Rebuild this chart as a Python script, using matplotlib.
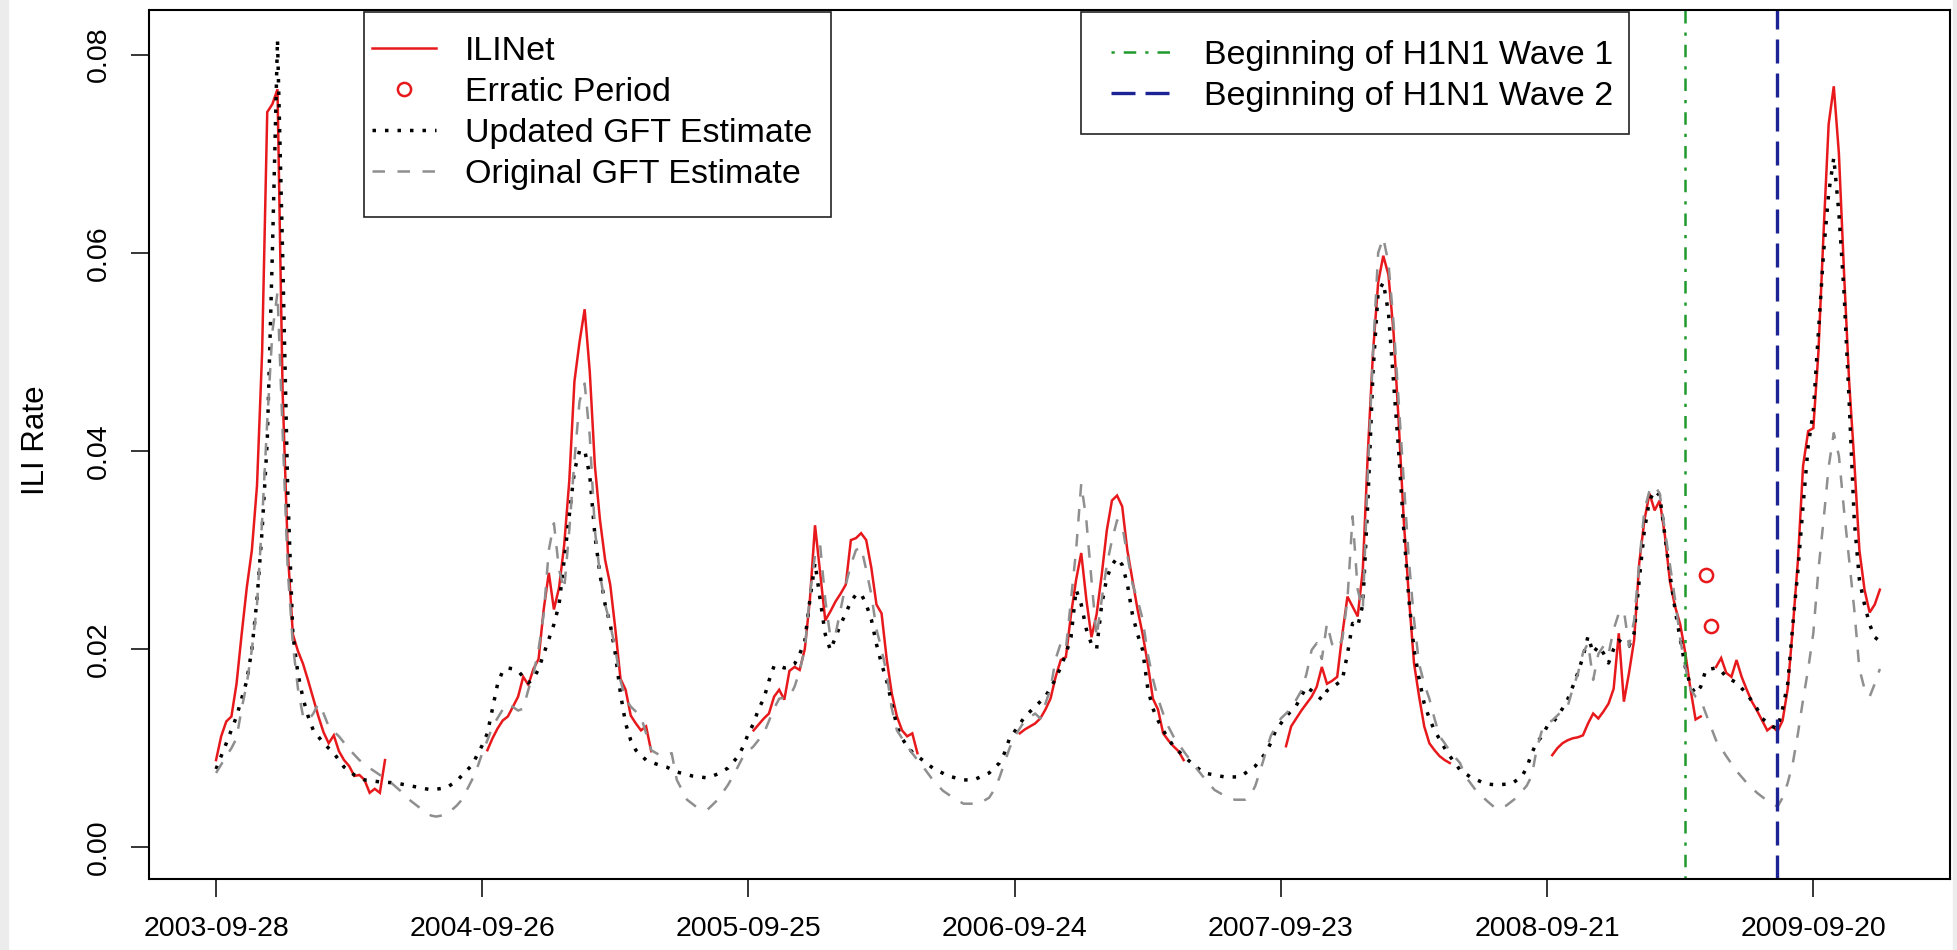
import numpy as np
import matplotlib
matplotlib.use("Agg")
import matplotlib.pyplot as plt
from matplotlib.lines import Line2D
from matplotlib.patches import Rectangle

plt.rcParams["font.family"] = ["Liberation Sans", "DejaVu Sans"]

W, H, DPI = 1958, 950, 100

# x positions are week numbers counted from 2003-09-28
tick_weeks = [0, 52, 104, 156, 208, 260, 312]
tick_labels = ["2003-09-28", "2004-09-26", "2005-09-25", "2006-09-24",
               "2007-09-23", "2008-09-21", "2009-09-20"]
y_ticks = [0.00, 0.02, 0.04, 0.06, 0.08]

# ILINet: (first week, weekly rates) for each reporting stretch
ili_seasons = [
    (0, [0.0088, 0.0112, 0.0127, 0.0132, 0.0165, 0.0215, 0.0262, 0.0300, 0.0365, 0.0500,
         0.0742, 0.0750, 0.0765, 0.0460, 0.0300, 0.0215, 0.0198, 0.0185, 0.0168, 0.0150,
         0.0132, 0.0116, 0.0105, 0.0113, 0.0097, 0.0088, 0.0082, 0.0072, 0.0073, 0.0068,
         0.0055, 0.0059, 0.0055, 0.0088]),
    (53, [0.0098, 0.0110, 0.0120, 0.0128, 0.0132, 0.0142, 0.0152, 0.0172, 0.0164, 0.0180,
          0.0190, 0.0240, 0.0277, 0.0240, 0.0262, 0.0305, 0.0370, 0.0470, 0.0510, 0.0543,
          0.0480, 0.0385, 0.0330, 0.0290, 0.0265, 0.0220, 0.0170, 0.0159, 0.0133, 0.0125,
          0.0118, 0.0122, 0.0097]),
    (105, [0.0118, 0.0124, 0.0130, 0.0135, 0.0152, 0.0159, 0.0149, 0.0178, 0.0182, 0.0179,
           0.0200, 0.0250, 0.0325, 0.0277, 0.0229, 0.0238, 0.0248, 0.0256, 0.0265, 0.0310,
           0.0312, 0.0317, 0.0310, 0.0282, 0.0245, 0.0236, 0.0190, 0.0155, 0.0132, 0.0118,
           0.0112, 0.0115, 0.0095]),
    (157, [0.0115, 0.0119, 0.0122, 0.0125, 0.0130, 0.0139, 0.0150, 0.0172, 0.0189, 0.0192,
           0.0235, 0.0270, 0.0297, 0.0250, 0.0212, 0.0235, 0.0275, 0.0320, 0.0350, 0.0355,
           0.0344, 0.0300, 0.0270, 0.0240, 0.0215, 0.0185, 0.0150, 0.0139, 0.0115, 0.0108,
           0.0102, 0.0097, 0.0088]),
    (209, [0.0102, 0.0122, 0.0130, 0.0138, 0.0145, 0.0152, 0.0162, 0.0182, 0.0165, 0.0168,
           0.0172, 0.0215, 0.0253, 0.0243, 0.0233, 0.0280, 0.0400, 0.0500, 0.0570, 0.0597,
           0.0578, 0.0520, 0.0430, 0.0330, 0.0253, 0.0186, 0.0152, 0.0122, 0.0105, 0.0098,
           0.0092, 0.0088, 0.0085]),
    (261, [0.0093, 0.0100, 0.0105, 0.0108, 0.0110, 0.0111, 0.0113, 0.0125, 0.0135, 0.0130,
           0.0137, 0.0145, 0.0160, 0.0216, 0.0147, 0.0176, 0.0209, 0.0287, 0.0330, 0.0357,
           0.0340, 0.0350, 0.0315, 0.0268, 0.0243, 0.0225, 0.0196, 0.0160, 0.0129, 0.0132]),
    (293, [0.0182, 0.0191, 0.0176, 0.0172, 0.0189, 0.0172, 0.0159, 0.0147, 0.0138, 0.0128,
           0.0118, 0.0122, 0.0117, 0.0128, 0.0160, 0.0222, 0.0290, 0.0385, 0.0420, 0.0423,
           0.0500, 0.0620, 0.0730, 0.0768, 0.0700, 0.0580, 0.0470, 0.0390, 0.0300, 0.0260,
           0.0237, 0.0245, 0.0260]),
]

erratic_weeks = [291, 292]
erratic_rate = [0.0275, 0.0223]

gft_new_weeks = [
    0, 2, 4, 6, 7, 8, 9, 10, 11, 12, 13, 14, 15, 16, 17, 18, 19, 21, 23, 25, 27, 29, 32, 35, 38,
    42, 45, 47, 50, 52, 53, 54, 55, 56, 57, 58, 59, 60, 61, 62, 63, 64, 65, 66, 67, 68, 69, 70,
    71, 72, 73, 74, 75, 76, 77, 78, 79, 80, 81, 82, 84, 86, 88, 90, 93, 96, 98, 100, 102, 103,
    104, 105, 106, 107, 108, 109, 110, 111, 112, 113, 114, 115, 116, 117, 118, 119, 120, 121,
    122, 123, 124, 125, 126, 127, 128, 129, 130, 131, 132, 133, 134, 135, 136, 138, 140, 143,
    146, 148, 151, 153, 154, 155, 156, 158, 160, 162, 164, 165, 166, 167, 168, 169, 170, 171,
    172, 173, 174, 175, 176, 177, 178, 179, 180, 181, 182, 183, 184, 185, 187, 189, 191, 193,
    197, 200, 203, 205, 206, 207, 209, 211, 213, 214, 216, 217, 219, 220, 221, 222, 223, 224,
    225, 226, 227, 228, 229, 230, 231, 232, 233, 234, 235, 236, 237, 238, 240, 241, 243, 245,
    248, 250, 253, 255, 256, 257, 258, 259, 260, 261, 262, 263, 264, 265, 266, 267, 268, 269,
    270, 271, 272, 273, 274, 275, 276, 277, 278, 279, 280, 281, 282, 283, 284, 285, 286, 287,
    288, 289, 290, 291, 292, 293, 294, 295, 297, 299, 301, 302, 304, 305, 306, 307, 308, 309,
    310, 311, 312, 313, 314, 315, 316, 317, 318, 319, 320, 321, 322, 323, 324, 325]
gft_new = [
    0.0079, 0.0105, 0.0132, 0.0168, 0.0200, 0.0250, 0.0320, 0.0410, 0.0600, 0.0815, 0.0600,
    0.0360, 0.0215, 0.0175, 0.0150, 0.0132, 0.0118, 0.0105, 0.0095, 0.0081, 0.0073, 0.0068,
    0.0066, 0.0065, 0.0062, 0.0058, 0.0060, 0.0067, 0.0083, 0.0103, 0.0115, 0.0140, 0.0165,
    0.0178, 0.0181, 0.0180, 0.0178, 0.0172, 0.0166, 0.0170, 0.0180, 0.0195, 0.0210, 0.0225,
    0.0245, 0.0290, 0.0335, 0.0380, 0.0400, 0.0401, 0.0375, 0.0315, 0.0275, 0.0245, 0.0225,
    0.0195, 0.0155, 0.0125, 0.0108, 0.0098, 0.0088, 0.0084, 0.0081, 0.0076, 0.0072, 0.0070,
    0.0074, 0.0080, 0.0092, 0.0102, 0.0115, 0.0125, 0.0140, 0.0150, 0.0168, 0.0183, 0.0183,
    0.0181, 0.0182, 0.0185, 0.0195, 0.0208, 0.0250, 0.0287, 0.0250, 0.0215, 0.0199, 0.0212,
    0.0225, 0.0236, 0.0248, 0.0255, 0.0256, 0.0245, 0.0230, 0.0205, 0.0185, 0.0168, 0.0145,
    0.0122, 0.0110, 0.0102, 0.0096, 0.0088, 0.0080, 0.0072, 0.0068, 0.0068, 0.0075, 0.0085,
    0.0095, 0.0110, 0.0117, 0.0132, 0.0142, 0.0152, 0.0170, 0.0182, 0.0195, 0.0212, 0.0260,
    0.0245, 0.0220, 0.0205, 0.0200, 0.0245, 0.0272, 0.0285, 0.0292, 0.0285, 0.0266, 0.0235,
    0.0215, 0.0199, 0.0160, 0.0140, 0.0128, 0.0118, 0.0102, 0.0092, 0.0083, 0.0075, 0.0071,
    0.0071, 0.0082, 0.0095, 0.0105, 0.0118, 0.0132, 0.0143, 0.0162, 0.0158, 0.0149, 0.0158,
    0.0165, 0.0169, 0.0195, 0.0226, 0.0223, 0.0245, 0.0350, 0.0480, 0.0560, 0.0570, 0.0540,
    0.0470, 0.0400, 0.0320, 0.0250, 0.0200, 0.0170, 0.0145, 0.0130, 0.0118, 0.0100, 0.0092,
    0.0078, 0.0071, 0.0064, 0.0063, 0.0064, 0.0071, 0.0080, 0.0095, 0.0106, 0.0112, 0.0122,
    0.0125, 0.0132, 0.0140, 0.0149, 0.0162, 0.0176, 0.0192, 0.0213, 0.0196, 0.0203, 0.0196,
    0.0186, 0.0200, 0.0209, 0.0205, 0.0203, 0.0216, 0.0270, 0.0320, 0.0350, 0.0360, 0.0355,
    0.0315, 0.0275, 0.0240, 0.0210, 0.0182, 0.0163, 0.0155, 0.0162, 0.0179, 0.0180, 0.0181,
    0.0178, 0.0172, 0.0166, 0.0155, 0.0140, 0.0130, 0.0122, 0.0120, 0.0140, 0.0165, 0.0225,
    0.0280, 0.0345, 0.0405, 0.0440, 0.0520, 0.0600, 0.0660, 0.0696, 0.0640, 0.0560, 0.0450,
    0.0330, 0.0270, 0.0245, 0.0225, 0.0212, 0.0208]

gft_old_weeks = [
    0, 2, 3, 4, 5, 6, 7, 8, 9, 10, 11, 12, 13, 14, 15, 16, 17, 18, 19, 20, 21, 22, 24, 26, 28,
    30, 32, 34, 36, 38, 40, 42, 43, 45, 47, 48, 50, 51, 52, 53, 54, 56, 57, 59, 60, 61, 62, 63,
    64, 65, 66, 67, 68, 69, 70, 71, 72, 73, 74, 75, 76, 77, 78, 79, 80, 81, 83, 84, 85, 87, 89,
    90, 92, 94, 96, 98, 100, 101, 103, 105, 107, 109, 110, 112, 113, 114, 115, 116, 117, 118,
    119, 120, 121, 122, 123, 124, 125, 126, 127, 128, 129, 130, 131, 132, 133, 134, 135, 136,
    137, 138, 140, 142, 144, 146, 149, 151, 152, 153, 154, 155, 156, 158, 160, 161, 163, 164,
    165, 166, 167, 168, 169, 170, 171, 172, 173, 174, 175, 176, 177, 178, 179, 180, 181, 182,
    183, 184, 185, 186, 187, 189, 191, 193, 195, 197, 199, 201, 202, 203, 204, 205, 206, 207,
    208, 210, 212, 213, 214, 215, 216, 217, 218, 219, 220, 221, 222, 223, 224, 225, 226, 227,
    228, 229, 230, 231, 232, 233, 234, 235, 236, 237, 238, 239, 240, 241, 243, 244, 246, 248,
    250, 252, 254, 256, 257, 258, 259, 260, 261, 263, 264, 265, 266, 267, 268, 269, 270, 271,
    272, 273, 274, 275, 276, 277, 278, 279, 280, 281, 282, 283, 284, 285, 286, 287, 288, 289,
    290, 291, 293, 295, 297, 299, 301, 303, 305, 306, 307, 308, 309, 310, 311, 312, 313, 314,
    315, 316, 317, 318, 319, 320, 321, 322, 323, 324, 325]
gft_old = [
    0.0075, 0.0092, 0.0100, 0.0110, 0.0140, 0.0165, 0.0200, 0.0245, 0.0330, 0.0430, 0.0520,
    0.0560, 0.0420, 0.0280, 0.0205, 0.0160, 0.0132, 0.0128, 0.0135, 0.0145, 0.0135, 0.0122,
    0.0112, 0.0099, 0.0088, 0.0080, 0.0073, 0.0066, 0.0057, 0.0047, 0.0039, 0.0032, 0.0031,
    0.0033, 0.0042, 0.0048, 0.0068, 0.0080, 0.0095, 0.0108, 0.0122, 0.0139, 0.0145, 0.0138,
    0.0140, 0.0159, 0.0175, 0.0200, 0.0235, 0.0300, 0.0327, 0.0280, 0.0260, 0.0320, 0.0390,
    0.0450, 0.0468, 0.0415, 0.0320, 0.0275, 0.0245, 0.0225, 0.0200, 0.0168, 0.0150, 0.0142,
    0.0132, 0.0115, 0.0098, 0.0092, 0.0095, 0.0068, 0.0048, 0.0040, 0.0038, 0.0048, 0.0063,
    0.0072, 0.0092, 0.0102, 0.0115, 0.0140, 0.0150, 0.0152, 0.0162, 0.0178, 0.0200, 0.0255,
    0.0295, 0.0305, 0.0250, 0.0212, 0.0215, 0.0240, 0.0265, 0.0285, 0.0300, 0.0303, 0.0280,
    0.0255, 0.0220, 0.0200, 0.0175, 0.0140, 0.0118, 0.0110, 0.0102, 0.0095, 0.0088, 0.0082,
    0.0068, 0.0057, 0.0050, 0.0044, 0.0044, 0.0050, 0.0058, 0.0070, 0.0085, 0.0100, 0.0112,
    0.0128, 0.0135, 0.0130, 0.0160, 0.0190, 0.0206, 0.0200, 0.0250, 0.0300, 0.0367, 0.0330,
    0.0270, 0.0212, 0.0250, 0.0285, 0.0310, 0.0330, 0.0325, 0.0295, 0.0266, 0.0250, 0.0230,
    0.0195, 0.0170, 0.0150, 0.0135, 0.0122, 0.0112, 0.0097, 0.0083, 0.0070, 0.0058, 0.0052,
    0.0048, 0.0048, 0.0052, 0.0062, 0.0078, 0.0095, 0.0112, 0.0122, 0.0130, 0.0140, 0.0158,
    0.0175, 0.0199, 0.0206, 0.0190, 0.0226, 0.0205, 0.0200, 0.0210, 0.0250, 0.0334, 0.0260,
    0.0240, 0.0380, 0.0500, 0.0600, 0.0615, 0.0590, 0.0530, 0.0450, 0.0370, 0.0290, 0.0230,
    0.0185, 0.0165, 0.0150, 0.0130, 0.0112, 0.0105, 0.0097, 0.0085, 0.0072, 0.0058, 0.0048,
    0.0039, 0.0042, 0.0050, 0.0062, 0.0072, 0.0100, 0.0118, 0.0125, 0.0128, 0.0138, 0.0142,
    0.0160, 0.0175, 0.0196, 0.0206, 0.0169, 0.0195, 0.0203, 0.0195, 0.0220, 0.0236, 0.0239,
    0.0203, 0.0229, 0.0287, 0.0340, 0.0360, 0.0365, 0.0357, 0.0320, 0.0285, 0.0250, 0.0210,
    0.0182, 0.0160, 0.0152, 0.0149, 0.0135, 0.0108, 0.0092, 0.0077, 0.0065, 0.0055, 0.0047,
    0.0041, 0.0050, 0.0065, 0.0085, 0.0115, 0.0149, 0.0180, 0.0216, 0.0280, 0.0330, 0.0384,
    0.0418, 0.0395, 0.0340, 0.0290, 0.0240, 0.0180, 0.0160, 0.0152, 0.0165, 0.0180]

wave1_week = 287
wave2_week = 305

RED = "#e8191c"
GREY = "#8f8f8f"
GREEN = "#1f9a2a"
BLUE = "#1c2394"

red_style = dict(color=RED, lw=1.8)
circ_style = dict(ls="none", marker="o", ms=9.5, mfc="none", mec=RED, mew=1.8)
new_style = dict(color="black", lw=2.5, ls=(0, (1, 2.6)))
old_style = dict(color=GREY, lw=1.8, ls=(0, (5, 5)))
w1_style = dict(color=GREEN, lw=1.8, ls=(0, (1.3, 3.6, 5, 3.6)))
w2_style = dict(color=BLUE, lw=2.4, ls=(0, (7.2, 3)))

fig = plt.figure(figsize=(W / DPI, H / DPI), dpi=DPI)
fig.patches.append(Rectangle((0, 0), 8 / W, 1, transform=fig.transFigure,
                             color="#ececec", zorder=0))
fig.patches.append(Rectangle((1953 / W, 0), 5 / W, 1, transform=fig.transFigure,
                             color="#ececec", zorder=0))
ax = fig.add_axes([149.5 / W, 1 - 879 / H, (1950 - 149.5) / W, (879 - 10) / H])

for start, vals in ili_seasons:
    ax.plot(start + np.arange(len(vals)), vals, solid_joinstyle="miter", **red_style)
ax.plot(erratic_weeks, erratic_rate, **circ_style)
ax.plot(gft_new_weeks, gft_new, **new_style)
ax.plot(gft_old_weeks, gft_old, **old_style)
ax.axvline(wave1_week, **w1_style)
ax.axvline(wave2_week, **w2_style)

ax.set_xlim(-13, 338.7)
ax.set_ylim(-0.0032, 0.0845)
ax.set_xticks(tick_weeks, tick_labels)
ax.set_yticks(y_ticks, [f"{v:.2f}" for v in y_ticks], rotation=90, va="center")
ax.tick_params(length=13, width=1.1, pad=14, labelsize=20.5, direction="out")
for sp in ax.spines.values():
    sp.set_linewidth(1.5)

fig.text(36 / W, 1 - 440 / H, "ILI Rate", rotation=90, fontsize=22.5,
         ha="center", va="center")

# legend boxes
for x0, y0, x1, y1 in [(364, 11.7, 830.7, 216.7), (1081, 11.7, 1628.6, 134.3)]:
    ax.add_patch(Rectangle((x0 / W, 1 - y1 / H), (x1 - x0) / W, (y1 - y0) / H,
                           transform=fig.transFigure, clip_on=False,
                           facecolor="white", edgecolor="#222222", lw=1.2, zorder=4))

h1 = [Line2D([], [], **red_style), Line2D([], [], **circ_style),
      Line2D([], [], **new_style), Line2D([], [], **old_style)]
l1 = ["ILINet", "Erratic Period", "Updated GFT Estimate", "Original GFT Estimate"]
h2 = [Line2D([], [], **w1_style), Line2D([], [], **w2_style)]
l2 = ["Beginning of H1N1 Wave 1", "Beginning of H1N1 Wave 2"]

common = dict(loc="center left", bbox_transform=fig.transFigure, frameon=False,
              fontsize=24.5, handlelength=1.9, handletextpad=0.85, labelspacing=0.3,
              borderpad=0, borderaxespad=0)
leg1 = ax.legend(h1, l1, bbox_to_anchor=(371.7 / W, 1 - 113 / H), **common)
leg1.set_zorder(5)
ax.add_artist(leg1)
leg2 = ax.legend(h2, l2, bbox_to_anchor=(1110.7 / W, 1 - 75.9 / H), **common)
leg2.set_zorder(5)

fig.savefig("out.png", dpi=DPI)
